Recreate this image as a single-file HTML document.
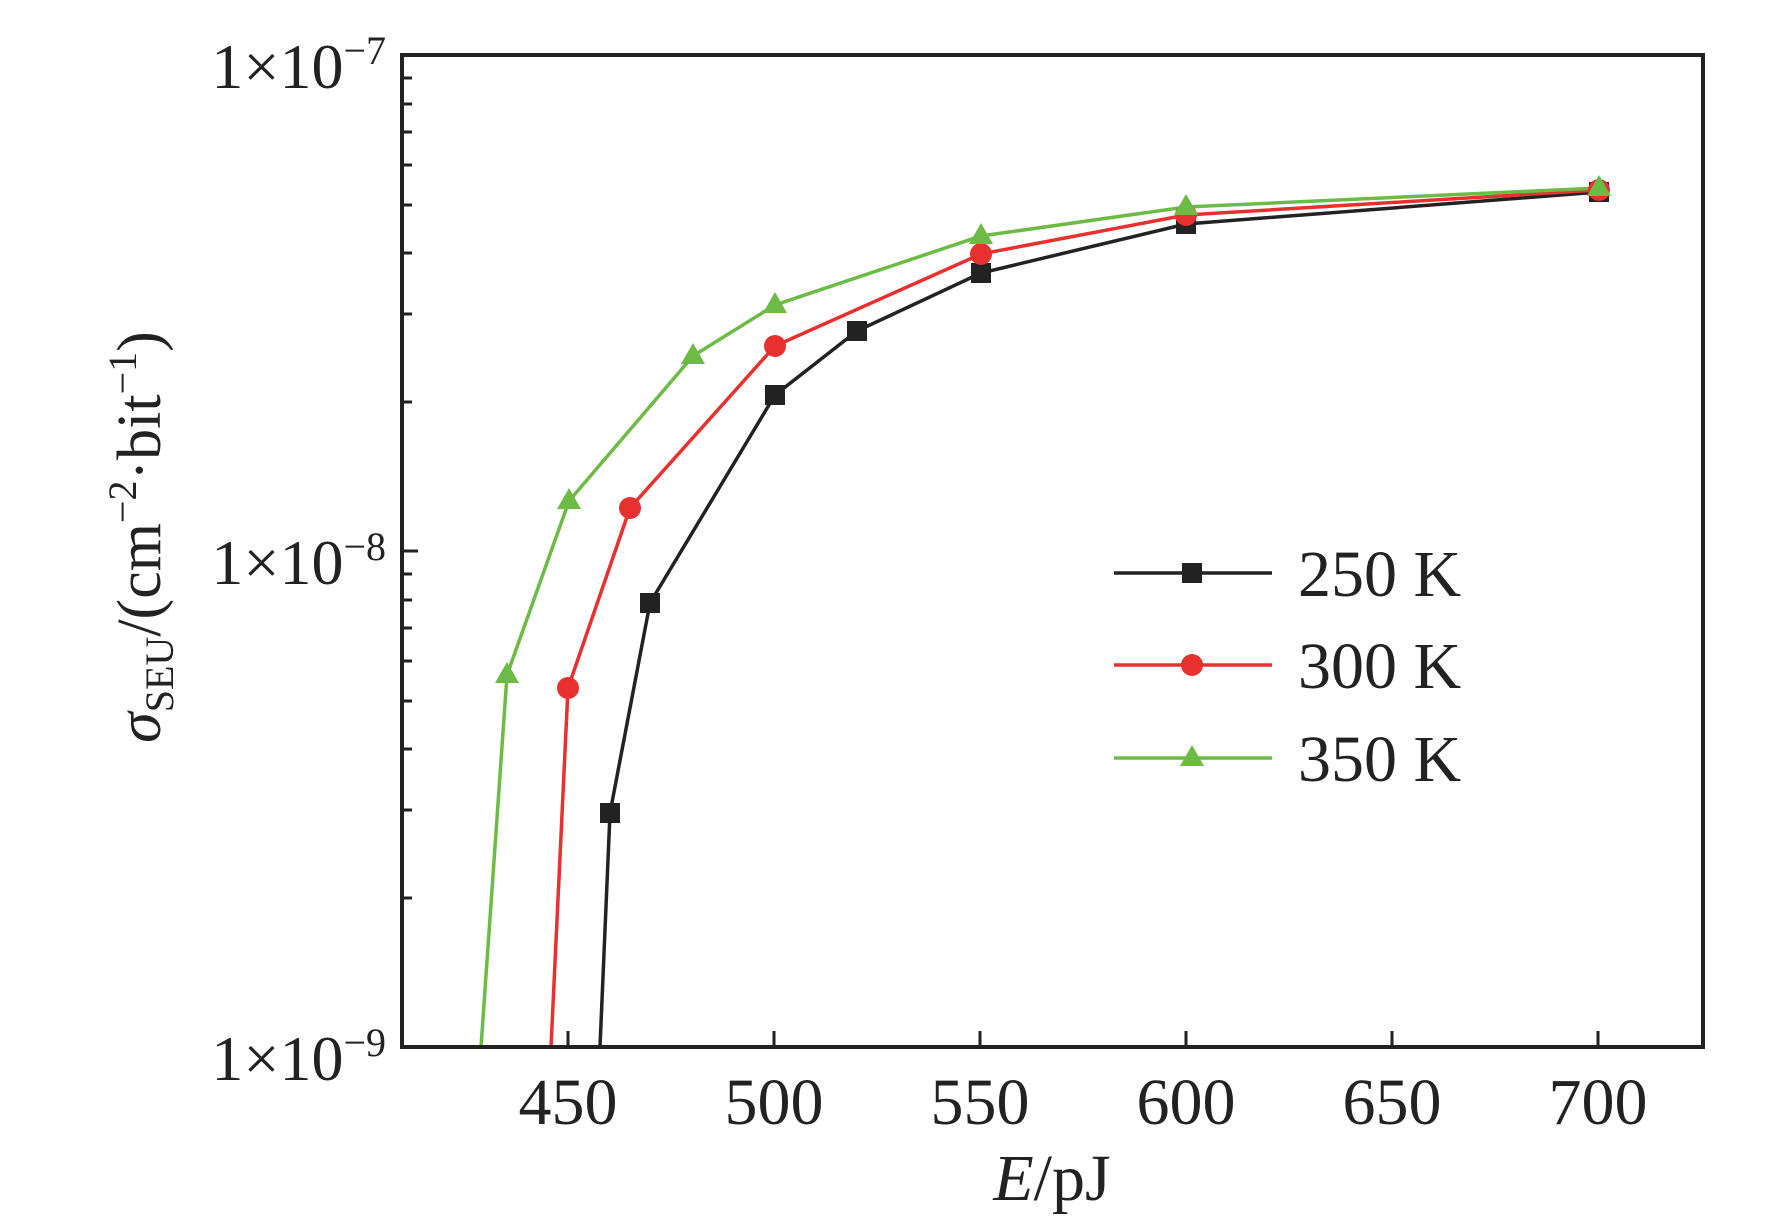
<!DOCTYPE html><html><head><style>body{margin:0;background:#fff}svg{display:block}text{font-family:"Liberation Serif",serif;fill:#222}</style></head><body>
<svg width="1772" height="1224" viewBox="0 0 1772 1224" xmlns="http://www.w3.org/2000/svg">
<defs><clipPath id="c"><rect x="402" y="55" width="1301" height="992"/></clipPath></defs>
<g stroke="#222" stroke-width="3" fill="none">
<path d="M568 1047v-16M774 1047v-16M980 1047v-16M1186 1047v-16M1392 1047v-16M1598 1047v-16"/>
<path d="M402 551h16M402 55h16M402 1047h16"/>
<path d="M402 898h10M402 810h10M402 749h10M402 701h10M402 661h10M402 628h10M402 600h10M402 574h10M402 402h10M402 314h10M402 253h10M402 205h10M402 165h10M402 132h10M402 104h10M402 78h10"/>
</g>
<g clip-path="url(#c)" stroke-width="3.5" fill="none">
<polyline stroke="#222" points="600,1047 610,813 650,603 775,395 857,331 981,273 1186,224 1599,192"/>
<polyline stroke="#e8302f" points="551,1047 568,688 630,508 775,346 981,254 1186,215 1599,190"/>
<polyline stroke="#6cbb45" points="481,1047 507,675 569,501 693,356 775,305 981,236 1186,207 1599,188"/>
</g>
<g fill="#222"><rect x="600" y="803" width="20" height="20"/><rect x="640" y="593" width="20" height="20"/><rect x="765" y="385" width="20" height="20"/><rect x="847" y="321" width="20" height="20"/><rect x="971" y="263" width="20" height="20"/><rect x="1176" y="214" width="20" height="20"/><rect x="1589" y="182" width="20" height="20"/></g>
<g fill="#e8302f"><circle cx="568" cy="688" r="11"/><circle cx="630" cy="508" r="11"/><circle cx="775" cy="346" r="11"/><circle cx="981" cy="254" r="11"/><circle cx="1186" cy="215" r="11"/><circle cx="1599" cy="190" r="11"/></g>
<g fill="#6cbb45"><path d="M507 662l12 21h-24z"/><path d="M569 488l12 21h-24z"/><path d="M693 343l12 21h-24z"/><path d="M775 292l12 21h-24z"/><path d="M981 223l12 21h-24z"/><path d="M1186 194l12 21h-24z"/><path d="M1599 175l12 21h-24z"/></g>
<rect x="402" y="55" width="1301" height="992" fill="none" stroke="#222" stroke-width="4"/>
<g font-size="66" text-anchor="middle"><text x="568" y="1124">450</text><text x="774" y="1124">500</text><text x="980" y="1124">550</text><text x="1186" y="1124">600</text><text x="1392" y="1124">650</text><text x="1598" y="1124">700</text></g>
<g font-size="64" text-anchor="end"><text x="386" y="88">1×10<tspan font-size="40" dy="-24">−7</tspan></text><text x="386" y="584">1×10<tspan font-size="40" dy="-24">−8</tspan></text><text x="386" y="1080">1×10<tspan font-size="40" dy="-24">−9</tspan></text></g>
<text x="1052" y="1200" font-size="66" text-anchor="middle"><tspan font-style="italic">E</tspan>/pJ</text>
<text transform="translate(160,537) rotate(-90)" font-size="62" text-anchor="middle"><tspan font-style="italic">σ</tspan><tspan font-size="40" dy="13">SEU</tspan><tspan dy="-13">/(cm</tspan><tspan font-size="40" dy="-24">−2</tspan><tspan dy="24">·bit</tspan><tspan font-size="40" dy="-24">−1</tspan><tspan dy="24">)</tspan></text>
<g stroke-width="3.5"><line x1="1114" y1="573" x2="1272" y2="573" stroke="#222"/><line x1="1114" y1="665" x2="1272" y2="665" stroke="#e8302f"/><line x1="1114" y1="758" x2="1272" y2="758" stroke="#6cbb45"/></g>
<rect x="1182" y="563" width="20" height="20" fill="#222"/><circle cx="1192" cy="665" r="11" fill="#e8302f"/><path d="M1192 745l12 21h-24z" fill="#6cbb45"/>
<g font-size="66"><text x="1298" y="596">250 K</text><text x="1298" y="688">300 K</text><text x="1298" y="781">350 K</text></g>
</svg></body></html>
